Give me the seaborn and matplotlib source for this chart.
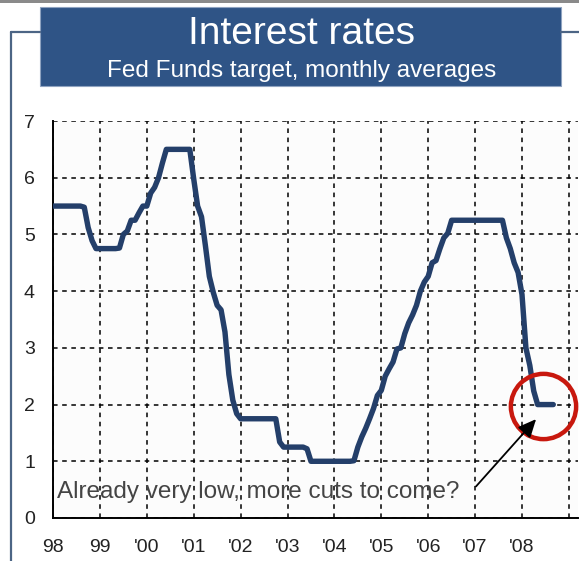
import numpy as np
import pandas as pd
import matplotlib
matplotlib.use("Agg")
import matplotlib.pyplot as plt
import seaborn as sns
from matplotlib.patches import Rectangle
from matplotlib.lines import Line2D

# --- data: Fed Funds target, monthly averages (Jan 1998 - Sep 2008) ---
start_month = "1998-01"
rates = [
    5.5, 5.5, 5.5, 5.5, 5.5, 5.5, 5.5, 5.5, 5.48, 5.12, 4.89, 4.75,      # 1998
    4.75, 4.75, 4.75, 4.75, 4.75, 4.76, 5.0, 5.06, 5.25, 5.25, 5.38, 5.5,  # 1999
    5.5, 5.73, 5.83, 6.0, 6.26, 6.5, 6.5, 6.5, 6.5, 6.5, 6.5, 6.5,        # 2000
    5.98, 5.5, 5.31, 4.8, 4.26, 3.98, 3.75, 3.67, 3.28, 2.53, 2.08, 1.84, # 2001
    1.75, 1.75, 1.75, 1.75, 1.75, 1.75, 1.75, 1.75, 1.75, 1.75, 1.34, 1.25,  # 2002
    1.25, 1.25, 1.25, 1.25, 1.25, 1.22, 1.0, 1.0, 1.0, 1.0, 1.0, 1.0,     # 2003
    1.0, 1.0, 1.0, 1.0, 1.0, 1.01, 1.25, 1.43, 1.58, 1.75, 1.93, 2.16,    # 2004
    2.25, 2.5, 2.63, 2.75, 2.98, 3.0, 3.25, 3.44, 3.58, 3.75, 4.0, 4.16,  # 2005
    4.26, 4.5, 4.54, 4.75, 4.94, 5.02, 5.25, 5.25, 5.25, 5.25, 5.25, 5.25,  # 2006
    5.25, 5.25, 5.25, 5.25, 5.25, 5.25, 5.25, 5.25, 4.94, 4.75, 4.5, 4.33,  # 2007
    3.94, 3.0, 2.69, 2.24, 2.0, 2.0, 2.0, 2.0, 2.0,                        # 2008
]
year_ticks = list(range(1998, 2010))
year_labels = ["98", "99", "'00", "'01", "'02", "'03", "'04", "'05", "'06", "'07", "'08", ""]
y_ticks = [0, 1, 2, 3, 4, 5, 6, 7]

title = "Interest rates"
subtitle = "Fed Funds target, monthly averages"
note = "Already very low, more cuts to come?"
circle_at = (2008.45, 1.97)

months = pd.date_range(start_month, periods=len(rates), freq="MS")
df = pd.DataFrame({"year": months.year + (months.month - 1) / 12, "rate": rates})

sns.set_style("white")
plt.rcParams["font.family"] = ["Liberation Sans", "DejaVu Sans"]

W, H = 579, 561
fig = plt.figure(figsize=(W / 100, H / 100), dpi=100)
fig.patch.set_facecolor("white")

# plot area in pixel coords
left, right, top, bottom = 53, 578, 121, 518
ax = fig.add_axes([left / W, 1 - bottom / H, (right - left) / W, (bottom - top) / H])
ax.set_facecolor("#fcfcfc")

sns.lineplot(data=df, x="year", y="rate", color="#243f6a", linewidth=3.9, ax=ax,
             solid_joinstyle="round", solid_capstyle="round", zorder=3)

ax.set_xlim(1998, 1998 + (right - left) / 46.9)
ax.set_ylim(0, 7)
ax.set_xticks(year_ticks)
ax.set_xticklabels(year_labels)
ax.set_yticks(y_ticks)
ax.set_xlabel("")
ax.set_ylabel("")

# dashed grid
ax.grid(True, color="black", linestyle=(0, (3, 3)), linewidth=1.1)
ax.set_axisbelow(True)
for s in ["top", "right"]:
    ax.spines[s].set_visible(False)
for s in ["left", "bottom"]:
    ax.spines[s].set_color("black")
    ax.spines[s].set_linewidth(1.4)
ax.tick_params(axis="both", direction="inout", length=8, width=1.2, colors="black",
               labelcolor="#222222")
ax.tick_params(axis="x", labelsize=14, pad=11)
ax.tick_params(axis="y", labelsize=14, pad=9)

# red circle highlighting the latest level
ax.plot([circle_at[0]], [circle_at[1]], marker="o", markersize=47, markerfacecolor="none",
        markeredgecolor="#c8180e", markeredgewidth=3.2, clip_on=False, zorder=4)

# annotation text with arrow
ax.annotate("", xy=(2008.34, 1.78), xytext=(2006.98, 0.52),
            arrowprops=dict(arrowstyle="-|>,head_length=1.1,head_width=0.5",
                            color="black", lw=1.3), zorder=5)
ax.text(1998.08, 0.45, note, fontsize=17.5, color="#444444", va="center", ha="left",
        zorder=5)

# frame around the panel
fr = "#4c6585"
fig.add_artist(Line2D([11 / W, 11 / W], [1 - 32 / H, 0], transform=fig.transFigure,
                      color=fr, linewidth=1.6))
fig.add_artist(Line2D([11 / W, 40 / W], [1 - 32 / H, 1 - 32 / H], transform=fig.transFigure,
                      color=fr, linewidth=1.6))
fig.add_artist(Line2D([561 / W, 1], [1 - 32 / H, 1 - 32 / H], transform=fig.transFigure,
                      color=fr, linewidth=1.6))
fig.add_artist(Rectangle((0, 1 - 3 / H), 1, 3 / H, transform=fig.transFigure,
                         facecolor="#8a8a8a", edgecolor="none"))

# title box
fig.add_artist(Rectangle((40 / W, 1 - 86 / H), (561 - 40) / W, (86 - 7) / H,
                         transform=fig.transFigure, facecolor="#2f5486",
                         edgecolor="#8fa3c0", linewidth=0.8))
fig.text(302 / W, 1 - 34 / H, title, color="white", fontsize=28, ha="center", va="center")
fig.text(302 / W, 1 - 71 / H, subtitle, color="white", fontsize=17.5, ha="center", va="center")

plt.savefig("out.png", dpi=100)
